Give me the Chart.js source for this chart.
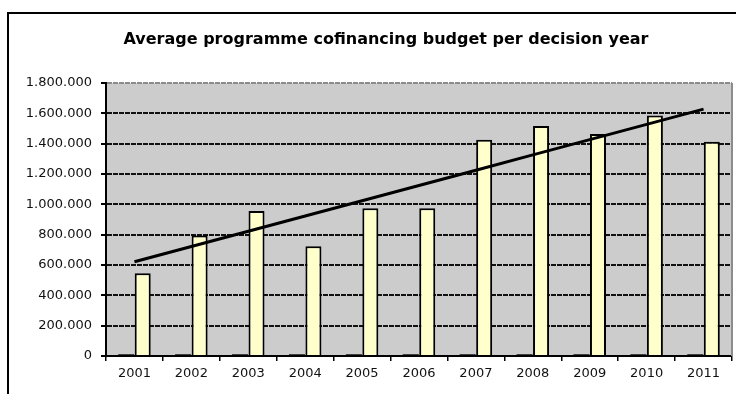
<!DOCTYPE html>
<html>
<head>
<meta charset="utf-8">
<title>Average programme cofinancing budget per decision year</title>
<script src="https://cdn.jsdelivr.net/npm/chart.js@4"></script>
<style>
  html, body { margin: 0; padding: 0; background: #fff; overflow: hidden; }
  #wrap { position: relative; width: 736px; height: 394px; }
  #chart { position: absolute; left: 0; top: 0; }
  #frame {
    position: absolute; left: 7px; top: 12px; width: 760px; height: 400px;
    border-left: 2px solid #000; border-top: 2px solid #000; pointer-events: none;
  }
</style>
</head>
<body>
<div id="wrap">
  <canvas id="chart" width="736" height="394"></canvas>
  <div id="frame"></div>
</div>
<script>
const chartTitle = 'Average programme cofinancing budget per decision year';
const years = ['2001', '2002', '2003', '2004', '2005', '2006', '2007', '2008', '2009', '2010', '2011'];
const smallSeries = [13000, 13000, 13000, 13000, 13000, 13000, 13000, 13000, 13000, 13000, 13000];
const avgBudget = [545000, 795000, 956000, 723000, 974000, 974000, 1426000, 1516000, 1464000, 1585000, 1413000];
const yTicks = [0, 200000, 400000, 600000, 800000, 1000000, 1200000, 1400000, 1600000, 1800000];

// linear trend over the budget series (least squares)
function trendOf(vals) {
  const n = vals.length;
  let sx = 0, sy = 0, sxy = 0, sxx = 0;
  vals.forEach((v, i) => { sx += i; sy += v; sxy += i * v; sxx += i * i; });
  const b = (n * sxy - sx * sy) / (n * sxx - sx * sx);
  const a = (sy - b * sx) / n;
  return vals.map((v, i) => a + b * i);
}
const trend = trendOf(avgBudget);

function dotted(v) {
  return String(v).replace(/\B(?=(\d{3})+(?!\d))/g, '.');
}

const FONT = '"DejaVu Sans", "Liberation Sans", Arial, sans-serif';

// grey plot background, right edge and the heading
const plotBg = {
  id: 'plotBg',
  beforeDraw(chart) {
    const { ctx, chartArea: a } = chart;
    ctx.save();
    ctx.fillStyle = '#cccccc';
    ctx.fillRect(a.left, a.top, a.right - a.left, a.bottom - a.top);
    ctx.restore();
  },
  beforeDatasetsDraw(chart) {
    const { ctx, chartArea: a } = chart;
    ctx.save();
    ctx.strokeStyle = '#8c8c8c';
    ctx.lineWidth = 2;
    ctx.beginPath();
    ctx.moveTo(a.right, a.top);
    ctx.lineTo(a.right, a.bottom);
    ctx.stroke();
    ctx.restore();
  },
  afterDraw(chart) {
    const { ctx } = chart;
    ctx.save();
    ctx.font = 'bold 16px ' + FONT;
    ctx.fillStyle = '#000';
    ctx.textAlign = 'center';
    ctx.textBaseline = 'middle';
    ctx.fillText(chartTitle, 386, 40);
    ctx.restore();
  }
};

Chart.defaults.font.family = FONT;
Chart.defaults.color = '#000';

new Chart(document.getElementById('chart'), {
  type: 'bar',
  data: {
    labels: years,
    datasets: [{
      type: 'line',
      data: trend,
      borderColor: '#000',
      borderWidth: 3,
      pointRadius: 0,
      fill: false,
      order: 0
    }, {
      data: smallSeries,
      backgroundColor: '#3a3a3a',
      borderWidth: 0,
      order: 1
    }, {
      data: avgBudget,
      backgroundColor: '#ffffcc',
      borderColor: '#000',
      borderWidth: 2,
      order: 1
    }]
  },
  options: {
    responsive: false,
    animation: false,
    categoryPercentage: 0.58,
    barPercentage: 0.97,
    layout: { padding: { left: 0, right: 4, top: 83, bottom: 10 } },
    plugins: {
      legend: { display: false },
      tooltip: { enabled: false },
      title: { display: false }
    },
    scales: {
      x: {
        offset: true,
        grid: { display: true, drawOnChartArea: false, offset: true, tickLength: 5, color: '#000', lineWidth: 1.5 },
        border: { color: '#000', width: 2 },
        ticks: { font: { size: 13 }, padding: 5, color: '#111' },
        afterFit(s) { s.height = 28; }
      },
      y: {
        min: 0,
        max: 1800000,
        afterBuildTicks(s) { s.ticks = yTicks.map(v => ({ value: v })); },
        grid: {
          tickLength: 5,
          lineWidth: 2,
          color: ctx => ctx.tick && ctx.tick.value === 1800000 ? '#8c8c8c' : '#111',
          tickColor: '#000'
        },
        border: { color: '#000', width: 2, dash: [5, 1] },
        ticks: { font: { size: 13 }, padding: 9, color: '#111', callback: v => dotted(v) },
        afterFit(s) { s.width = 106; }
      }
    }
  },
  plugins: [plotBg]
});
</script>
</body>
</html>
